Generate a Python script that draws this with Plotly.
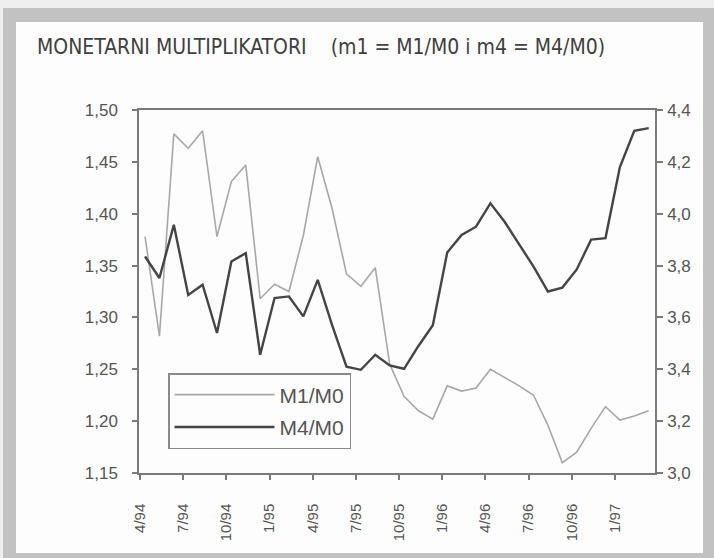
import plotly.graph_objects as go

# ---- data ----
months = ["4/94", "5/94", "6/94", "7/94", "8/94", "9/94", "10/94", "11/94", "12/94",
          "1/95", "2/95", "3/95", "4/95", "5/95", "6/95", "7/95", "8/95", "9/95",
          "10/95", "11/95", "12/95", "1/96", "2/96", "3/96", "4/96", "5/96", "6/96",
          "7/96", "8/96", "9/96", "10/96", "11/96", "12/96", "1/97", "2/97", "3/97"]

m1_m0 = [1.378, 1.282, 1.477, 1.463, 1.480, 1.378, 1.431, 1.447, 1.318,
         1.332, 1.325, 1.379, 1.455, 1.405, 1.342, 1.330, 1.348, 1.255,
         1.224, 1.210, 1.202, 1.234, 1.229, 1.232, 1.250, 1.242, 1.234,
         1.225, 1.196, 1.160, 1.170, 1.193, 1.214, 1.201, 1.205, 1.210]

m4_m0 = [3.835, 3.752, 3.957, 3.687, 3.726, 3.540, 3.816, 3.848, 3.456,
         3.675, 3.681, 3.604, 3.745, 3.570, 3.410, 3.398, 3.456, 3.415,
         3.402, 3.490, 3.570, 3.850, 3.918, 3.950, 4.040, 3.968, 3.882,
         3.796, 3.700, 3.715, 3.785, 3.900, 3.906, 4.180, 4.320, 4.330]

tick_labels = ["4/94", "7/94", "10/94", "1/95", "4/95", "7/95", "10/95",
               "1/96", "4/96", "7/96", "10/96", "1/97"]

legend_names = ["M1/M0", "M4/M0"]
title_text = "MONETARNI MULTIPLIKATORI&nbsp;&nbsp;&nbsp;&nbsp;(m1 = M1/M0 i m4 = M4/M0)"

# ---- geometry helpers ----
W, H = 714, 558
L, R, T, B = 139, 59, 110, 85
TICK_SHIFT = -0.35

x_idx = list(range(len(months)))
tickvals = [months.index(t) + TICK_SHIFT for t in tick_labels]

def px_x(p):
    return (p - L) / (W - L - R)

def px_y(p):
    return (H - B - p) / (H - T - B)

AX = "#7a7a7a"
TXT = "#555555"

fig = go.Figure()
fig.add_trace(go.Scatter(x=x_idx, y=m1_m0, name=legend_names[0], mode="lines",
                         legendgroup="g1",
                         line=dict(color="#a8a8a8", width=1.6), yaxis="y"))
fig.add_trace(go.Scatter(x=x_idx, y=m4_m0, name=legend_names[1], mode="lines",
                         legendgroup="g2",
                         line=dict(color="#454545", width=2.4), yaxis="y2"))

fig.update_layout(
    width=W, height=H,
    margin=dict(l=L, r=R, t=T, b=B),
    paper_bgcolor="#efefef",
    plot_bgcolor="rgba(0,0,0,0)",
    separators=", ",
    font=dict(family="Liberation Sans, Arial, sans-serif", color=TXT, size=16),
    title=dict(text=title_text, x=37 / W, xanchor="left", y=1 - 47 / H, yanchor="middle",
               font=dict(family="Liberation Sans Narrow, DejaVu Sans Condensed, Arial Narrow, Liberation Sans, sans-serif",
                         size=21, color="#404040")),
    xaxis=dict(range=[-0.42, 35.44], tickvals=tickvals, ticktext=tick_labels,
               tickangle=-90, showgrid=False, zeroline=False,
               showline=True, linecolor=AX, linewidth=1.5, mirror=True,
               ticks="outside", ticklen=5, tickcolor=AX, tickwidth=1.5,
               ticklabelstandoff=18,
               tickfont=dict(size=15, color=TXT)),
    yaxis=dict(range=[1.15, 1.50], dtick=0.05, tickformat=".2f", showgrid=False,
               zeroline=False, showline=True, linecolor=AX, linewidth=1.5,
               ticks="outside", ticklen=5, tickcolor=AX, tickwidth=1.5,
               ticklabelstandoff=11,
               tickfont=dict(size=17, color=TXT)),
    yaxis2=dict(range=[3.0, 4.4], dtick=0.2, tickformat=".1f", overlaying="y",
                side="right", showgrid=False, zeroline=False, showline=True,
                linecolor=AX, linewidth=1.5, ticks="outside", ticklen=6,
                tickcolor=AX, tickwidth=1.5, ticklabelstandoff=1,
                tickfont=dict(size=17, color=TXT)),
    legend=dict(x=px_x(168), y=px_y(373), xanchor="left", yanchor="top",
                bgcolor="rgba(255,255,255,0)", bordercolor="#8a8a8a", borderwidth=1.5,
                font=dict(size=21, color=TXT), itemwidth=100, tracegroupgap=2),
    shapes=[
        dict(type="rect", xref="paper", yref="paper", layer="below",
             x0=px_x(3), x1=px_x(714), y0=px_y(558), y1=px_y(8),
             fillcolor="#c2c2c2", line=dict(width=0)),
        dict(type="rect", xref="paper", yref="paper", layer="below",
             x0=px_x(16), x1=px_x(703), y0=px_y(553), y1=px_y(22),
             fillcolor="#fdfdfd", line=dict(width=0)),
    ],
)

fig.write_html("out.html", config={"displayModeBar": False},
               post_script="document.body.style.margin='0px';")
